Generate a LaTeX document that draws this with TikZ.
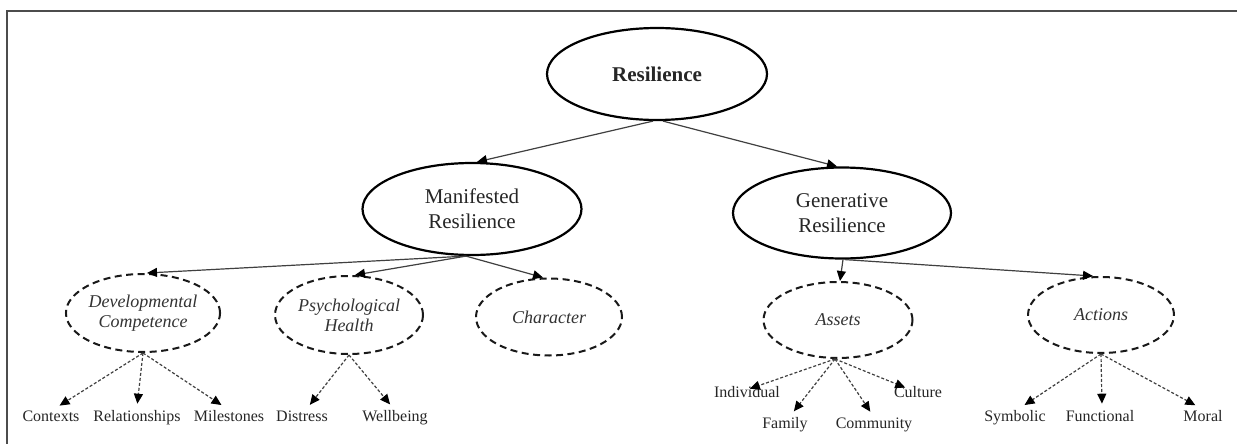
\documentclass[tikz,border=0pt]{standalone}
\usepackage{fontspec}
\setmainfont{Liberation Serif}
\usetikzlibrary{shapes.geometric,arrows.meta}
\tikzset{
  solidell/.style={ellipse,draw=black,line width=2.2pt,inner sep=0pt,align=center,
    font=\fontsize{21}{25}\selectfont,text=black!85},
  dashell/.style={ellipse,draw=black!90,line width=2pt,dash pattern=on 7pt off 4.5pt,
    inner sep=0pt,align=center,font=\fontsize{18}{20}\selectfont\itshape,text=black!80},
  leaf/.style={inner xsep=0pt,inner ysep=3pt,anchor=base,font=\fontsize{16}{18}\selectfont,text=black!85},
  solidarr/.style={draw=black!75,line width=1.2pt,-{Triangle[length=10pt,width=9pt,color=black]}},
  dasharr/.style={draw=black!75,line width=1.2pt,dash pattern=on 3pt off 2pt,
    -{Triangle[length=10pt,width=9pt,color=black]},shorten >=3pt},
  frameline/.style={draw=black!70,line width=2pt}
}
\begin{document}
\begin{tikzpicture}[x=1pt,y=-1pt]
\useasboundingbox (0,0) rectangle (1237,444);
\fill[white] (0,0) rectangle (1237,444);
\coordinate (fb) at (7,446);
\coordinate (fc) at (7,11);
\coordinate (fr) at (1240,11);
\draw[frameline] (fb) -- (fc) -- (fr);

% main nodes
\node[solidell,minimum width=220pt,minimum height=92pt] (res) at (657,74) {\textbf{Resilience}};
\node[solidell,minimum width=219pt,minimum height=92pt] (man) at (472,209) {Manifested\\Resilience};
\node[solidell,minimum width=218pt,minimum height=91pt] (gen) at (842,213) {Generative\\Resilience};

\node[dashell,minimum width=147pt,minimum height=78pt] (dev) at (143,313) {Developmental\\Competence};
\node[dashell,minimum width=148pt,minimum height=78pt] (psy) at (349,315) {Psychological\\Health};
\node[dashell,minimum width=146pt,minimum height=77pt] (cha) at (549,317) {Character};
\node[dashell,minimum width=149pt,minimum height=76pt] (ass) at (838,320) {Assets};
\node[dashell,minimum width=146pt,minimum height=76pt] (act) at (1101,315) {Actions};

% leaves
\node[leaf] (ctx) at (51,421) {Contexts};
\node[leaf] (rel) at (137,421) {Relationships};
\node[leaf] (mil) at (229,421) {Milestones};
\node[leaf] (dis) at (302,421) {Distress};
\node[leaf] (wel) at (395,421) {Wellbeing};
\node[leaf] (ind) at (747,397) {Individual};
\node[leaf] (fam) at (785,428) {Family};
\node[leaf] (com) at (874,428) {Community};
\node[leaf] (cul) at (918,397) {Culture};
\node[leaf] (sym) at (1015,421) {Symbolic};
\node[leaf] (fun) at (1100,421) {Functional};
\node[leaf] (mor) at (1203,421) {Moral};

% solid connectors
\draw[solidarr] ([xshift=-4pt]res.south) -- ([xshift=5pt]man.north);
\draw[solidarr] ([xshift=6pt]res.south) -- ([xshift=-5pt]gen.north);
\draw[solidarr] ([xshift=-6pt]man.south) -- ([xshift=4pt]dev.north);
\draw[solidarr] ([xshift=-6pt]man.south) -- ([xshift=6pt]psy.north);
\draw[solidarr] ([xshift=-6pt]man.south) -- ([xshift=-6pt]cha.north);
\draw[solidarr] ([xshift=1pt]gen.south) -- ([xshift=2pt]ass.north);
\draw[solidarr] ([xshift=3pt]gen.south) -- ([xshift=-8pt]act.north);

% dashed connectors
\draw[dasharr] (dev.south) -- ([xshift=6pt]ctx.north);
\draw[dasharr] (dev.south) -- (rel.north);
\draw[dasharr] (dev.south) -- ([xshift=-5pt]mil.north);
\draw[dasharr] (psy.south) -- ([xshift=6pt]dis.north);
\draw[dasharr] (psy.south) -- ([xshift=-3pt]wel.north);
\draw[dasharr] ([xshift=-3pt]ass.south) -- ([xshift=0pt,yshift=-7pt]ind.north);
\draw[dasharr] ([xshift=-3pt]ass.south) -- ([xshift=7pt]fam.north);
\draw[dasharr] ([xshift=-3pt]ass.south) -- ([xshift=-2pt]com.north);
\draw[dasharr] ([xshift=-3pt]ass.south) -- ([xshift=-10pt,yshift=-6pt]cul.north);
\draw[dasharr] (act.south) -- ([xshift=7pt]sym.north);
\draw[dasharr] (act.south) -- ([xshift=2pt]fun.north);
\draw[dasharr] (act.south) -- ([xshift=-5pt]mor.north);
\end{tikzpicture}
\end{document}
